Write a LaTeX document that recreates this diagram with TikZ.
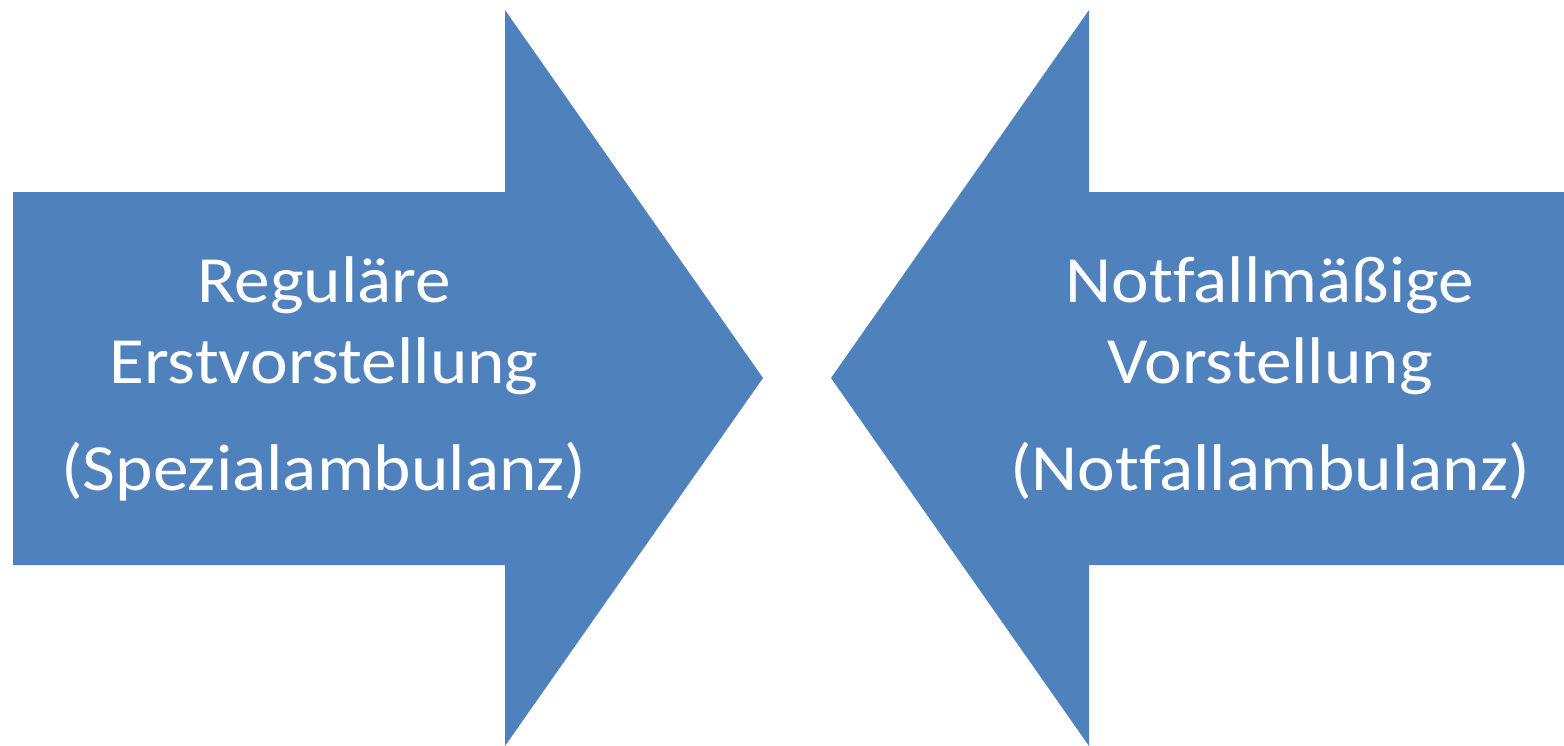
\documentclass[tikz,border=0pt]{standalone}
\usepackage{fontspec}
\setmainfont[Ligatures=NoCommon]{Carlito}
\definecolor{arrowblue}{HTML}{4F81BD}
\newcommand{\widetext}[1]{\scalebox{1.08}[1]{#1}}
\begin{document}
\begin{tikzpicture}[x=1pt,y=-1pt,
  blockarrow/.style={fill=arrowblue,draw=none},
  label/.style={text=white,inner sep=0pt,anchor=base,font=\fontsize{66}{79}\selectfont}]
\useasboundingbox (0,0) rectangle (1564,745);
\path[blockarrow] (13,192) -- (505,192) -- (505,10) -- (763,378) -- (505,746) -- (505,565) -- (13,565) -- cycle;
\path[blockarrow] (831,378) -- (1089,10) -- (1089,192) -- (1564,192) -- (1564,565) -- (1089,565) -- (1089,746) -- cycle;
\node[label] (l1) at (324,302) {\widetext{Reguläre}};
\node[label] (l2) at (324,383) {\widetext{Erstvorstellung}};
\node[label] (l3) at (324,490) {\widetext{(Spezialambulanz)}};
\node[label] (r1) at (1270,302) {\widetext{Notfallmäßige}};
\node[label] (r2) at (1270,383) {\widetext{Vorstellung}};
\node[label] (r3) at (1270,490) {\widetext{(Notfallambulanz)}};
\end{tikzpicture}
\end{document}
